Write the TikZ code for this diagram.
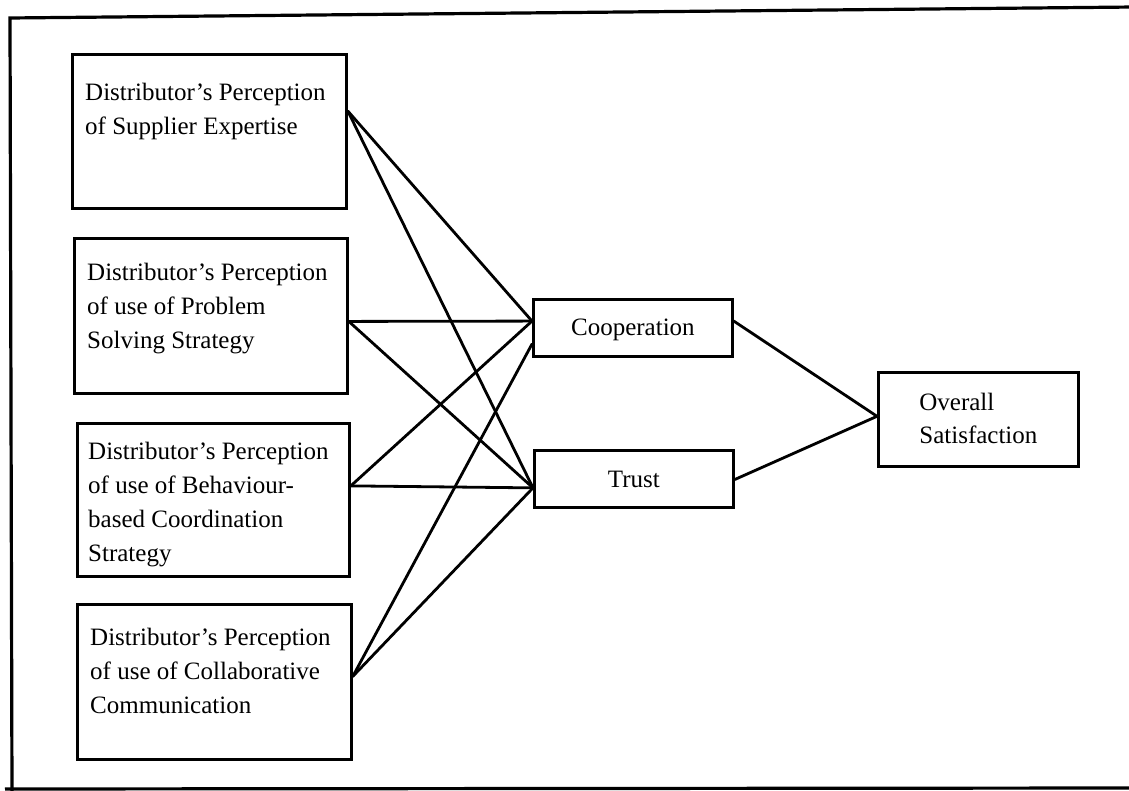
\documentclass[tikz,border=0pt]{standalone}
\usepackage{fontspec}
\setmainfont{Liberation Serif}
\usetikzlibrary{calc}
\tikzset{
  boxshape/.style={draw, rectangle, line width=2.8pt, inner sep=0pt, anchor=north west},
  boxtext/.style={inner sep=0pt, anchor=north west, align=left, font=\fontsize{25}{34}\selectfont},
  midtext/.style={inner sep=0pt, align=left, font=\fontsize{25}{33}\selectfont},
  link/.style={line width=2.8pt, line cap=round},
  frameline/.style={line width=3.2pt}
}
\begin{document}
\begin{tikzpicture}[x=1pt,y=-1pt]
\useasboundingbox (0,0) rectangle (1129,791);
% outer frame (scan: left, top, bottom edges visible)
\draw[frameline] (1135,7) -- (10,18) -- (12,795);
\draw[frameline] (5,789) -- (1135,788);

% left boxes
\node[boxshape, minimum width=274pt, minimum height=154pt] (b1) at (71,53) {};
\node[boxshape, minimum width=273pt, minimum height=155pt] (b2) at (73,237) {};
\node[boxshape, minimum width=272pt, minimum height=153pt] (b3) at (76,422) {};
\node[boxshape, minimum width=274pt, minimum height=155pt] (b4) at (76,603) {};

\node[boxtext] (t1) at ($(b1.north west)+(14,30)$) {Distributor’s Perception\\of Supplier Expertise};
\node[boxtext] (t2) at ($(b2.north west)+(14,26)$) {Distributor’s Perception\\of use of Problem\\Solving Strategy};
\node[boxtext] (t3) at ($(b3.north west)+(12,20)$) {Distributor’s Perception\\of use of Behaviour-\\based Coordination\\Strategy};
\node[boxtext] (t4) at ($(b4.north west)+(14,25)$) {Distributor’s Perception\\of use of Collaborative\\Communication};

% middle boxes
\node[boxshape, minimum width=199pt, minimum height=57pt] (coop) at (532,298) {};
\node[midtext] (coopt) at ($(coop.center)+(0,2)$) {Cooperation};
\node[boxshape, minimum width=199pt, minimum height=57pt] (trust) at (533,449) {};
\node[midtext] (trustt) at ($(trust.center)+(0,1)$) {Trust};

% right box
\node[boxshape, minimum width=200pt, minimum height=94pt] (sat) at (877,371) {};
\node[midtext] (satt) at ($(sat.center)+(0,-1)$) {Overall\\Satisfaction};

% connection points
\coordinate (o1) at ($(b1.north east)!0.37!(b1.south east)$);
\coordinate (o2) at ($(b2.north east)!0.535!(b2.south east)$);
\coordinate (o3) at ($(b3.north east)!0.41!(b3.south east)$);
\coordinate (o4) at ($(b4.north east)!0.465!(b4.south east)$);
\coordinate (ci) at ($(coop.north west)!0.386!(coop.south west)$);
\coordinate (ci2) at ($(coop.north west)!0.77!(coop.south west)$);
\coordinate (ti) at ($(trust.north west)!0.65!(trust.south west)$);
\coordinate (co) at ($(coop.north east)!0.386!(coop.south east)$);
\coordinate (to) at ($(trust.north east)!0.51!(trust.south east)$);
\coordinate (si) at ($(sat.north west)!0.468!(sat.south west)$);

% connectors
\draw[link] (o1) -- (ci);
\draw[link] (o1) -- (ti);
\draw[link] (o2) -- (ci);
\draw[link] (o2) -- (ti);
\draw[link] (o3) -- (ci);
\draw[link] (o3) -- (ti);
\draw[link] (o4) -- (ci2);
\draw[link] (o4) -- (ti);
\draw[link] (co) -- (si);
\draw[link] (to) -- (si);
\end{tikzpicture}
\end{document}
